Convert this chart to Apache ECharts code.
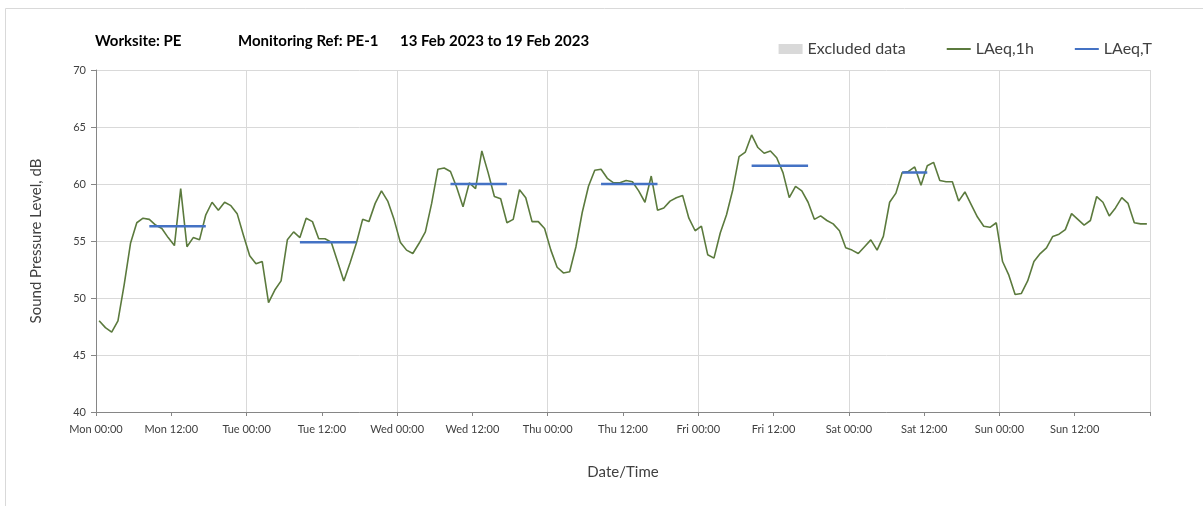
<!DOCTYPE html>
<html>
<head>
<meta charset="utf-8">
<script src="https://cdn.jsdelivr.net/npm/echarts@6/dist/echarts.min.js"></script>
<style>
  html, body { margin: 0; padding: 0; background: #fff; }
  #chart { width: 1203px; height: 506px; }
</style>
</head>
<body>
<div id="chart"></div>
<script>
// hourly LAeq,1h values, one array per day (00:00 .. 23:00)
const mon = [48.0, 47.4, 47.0, 48.0, 51.2, 54.8, 56.6, 57.0, 56.9, 56.4, 56.1, 55.3, 54.6, 59.6, 54.5, 55.3, 55.1, 57.3, 58.4, 57.7, 58.4, 58.1, 57.4, 55.5]
const tue = [53.7, 53.0, 53.2, 49.6, 50.7, 51.5, 55.1, 55.8, 55.3, 57.0, 56.7, 55.2, 55.2, 54.9, 53.2, 51.5, 53.1, 54.8, 56.9, 56.7, 58.3, 59.4, 58.5, 56.9]
const wed = [54.9, 54.2, 53.9, 54.8, 55.8, 58.3, 61.3, 61.4, 61.1, 59.7, 58.0, 60.1, 59.6, 62.9, 61.0, 58.9, 58.7, 56.6, 56.9, 59.5, 58.8, 56.7, 56.7, 56.1]
const thu = [54.2, 52.7, 52.2, 52.3, 54.5, 57.5, 59.8, 61.2, 61.3, 60.5, 60.1, 60.1, 60.3, 60.2, 59.4, 58.4, 60.7, 57.7, 57.9, 58.5, 58.8, 59.0, 57.0, 55.9]
const fri = [56.3, 53.8, 53.5, 55.7, 57.3, 59.5, 62.4, 62.8, 64.3, 63.2, 62.7, 62.9, 62.3, 61.0, 58.8, 59.8, 59.4, 58.4, 56.9, 57.2, 56.8, 56.5, 55.9, 54.4]
const sat = [54.2, 53.9, 54.5, 55.1, 54.2, 55.4, 58.4, 59.2, 61.0, 61.1, 61.5, 59.9, 61.6, 61.9, 60.3, 60.2, 60.2, 58.5, 59.3, 58.2, 57.1, 56.3, 56.2, 56.6]
const sun = [53.2, 52.0, 50.3, 50.4, 51.5, 53.2, 53.9, 54.4, 55.4, 55.6, 56.0, 57.4, 56.9, 56.4, 56.8, 58.9, 58.4, 57.2, 57.9, 58.8, 58.3, 56.6, 56.5, 56.5]

// LAeq,T daytime periods: day index, first hour, last hour, level
const periodDays = [0, 1, 2, 3, 4, 5]
const periodStart = [8, 8, 8, 8, 8, 8]
const periodEnd = [17, 17, 17, 17, 17, 12]
const periodValues = [56.3, 54.9, 60.0, 60.0, 61.6, 61.0]

const dayNames = ['Mon', 'Tue', 'Wed', 'Thu', 'Fri', 'Sat', 'Sun']
const timeNames = ['00:00', '12:00']

const hourly = [].concat(mon, tue, wed, thu, fri, sat, sun)
const hourlyData = hourly.map((v, i) => [i + 0.5, v])

const periodData = []
periodDays.forEach((d, k) => {
  for (let h = periodStart[k]; h <= periodEnd[k]; h++) {
    periodData.push([d * 24 + h + 0.5, periodValues[k]])
  }
  periodData.push([d * 24 + periodEnd[k] + 1, null])
})

const font = 'Lato, "Open Sans", sans-serif'
const textColor = '#404040'
const gridColor = '#d9d9d9'
const axisColor = '#868686'

const chart = echarts.init(document.getElementById('chart'))
chart.setOption({
  animation: false,
  textStyle: { fontFamily: font },
  title: [
    { text: 'Worksite: PE', left: 95, top: 34 },
    { text: 'Monitoring Ref: PE-1', left: 238, top: 34 },
    { text: '13 Feb 2023 to 19 Feb 2023', left: 400, top: 34 }
  ].map(t => Object.assign(t, {
    padding: 0,
    textStyle: { fontFamily: font, fontSize: 15, fontWeight: 'bold', color: '#000' }
  })),
  legend: {
    right: 46,
    top: 36,
    itemGap: 40,
    itemWidth: 24,
    itemHeight: 10,
    textStyle: { fontFamily: font, fontSize: 16, color: textColor },
    data: [
      { name: 'Excluded data', icon: 'rect' },
      { name: 'LAeq,1h', itemStyle: { opacity: 0 } },
      { name: 'LAeq,T', itemStyle: { opacity: 0 } }
    ]
  },
  grid: { left: 96, right: 53, top: 70, bottom: 94 },
  xAxis: [{
    type: 'value',
    min: 0,
    max: 168,
    interval: 12,
    name: 'Date/Time',
    nameLocation: 'middle',
    nameGap: 53,
    nameTextStyle: { fontFamily: font, fontSize: 15, color: textColor },
    axisLine: { show: true, lineStyle: { color: axisColor } },
    axisTick: { show: true, length: 4, lineStyle: { color: axisColor } },
    axisLabel: {
      margin: 12,
      fontSize: 11,
      color: textColor,
      fontFamily: font,
      formatter: v => v >= 168 ? '' : dayNames[Math.floor(v / 24)] + ' ' + timeNames[(v % 24) / 12]
    },
    splitLine: { show: false }
  }, {
    type: 'value',
    min: 0,
    max: 168,
    interval: 24,
    position: 'top',
    axisLine: { show: false },
    axisTick: { show: false },
    axisLabel: { show: false },
    splitLine: { show: true, lineStyle: { color: gridColor } }
  }],
  yAxis: {
    type: 'value',
    min: 40,
    max: 70,
    interval: 5,
    name: 'Sound Pressure Level, dB',
    nameLocation: 'middle',
    nameGap: 52,
    nameTextStyle: { fontFamily: font, fontSize: 15, color: textColor },
    axisLine: { show: true, lineStyle: { color: axisColor } },
    axisTick: { show: true, length: 5, lineStyle: { color: axisColor } },
    axisLabel: { margin: 10, fontSize: 11, color: textColor, fontFamily: font },
    splitLine: { show: true, lineStyle: { color: gridColor } }
  },
  series: [
    {
      name: 'Excluded data',
      type: 'bar',
      data: [],
      itemStyle: { color: '#d9d9d9' }
    },
    {
      name: 'LAeq,1h',
      type: 'line',
      data: hourlyData,
      symbol: 'none',
      color: '#5b7a3d',
      lineStyle: { width: 1.6, color: '#5b7a3d' }
    },
    {
      name: 'LAeq,T',
      type: 'line',
      data: periodData,
      symbol: 'none',
      connectNulls: false,
      color: '#4472c4',
      lineStyle: { width: 2.5, color: '#4472c4' }
    }
  ],
  graphic: [{
    type: 'rect',
    shape: { x: 5.5, y: 8.5, width: 1300, height: 600 },
    style: { fill: 'none', stroke: '#d9d9d9', lineWidth: 1 },
    silent: true
  }]
})
</script>
</body>
</html>
